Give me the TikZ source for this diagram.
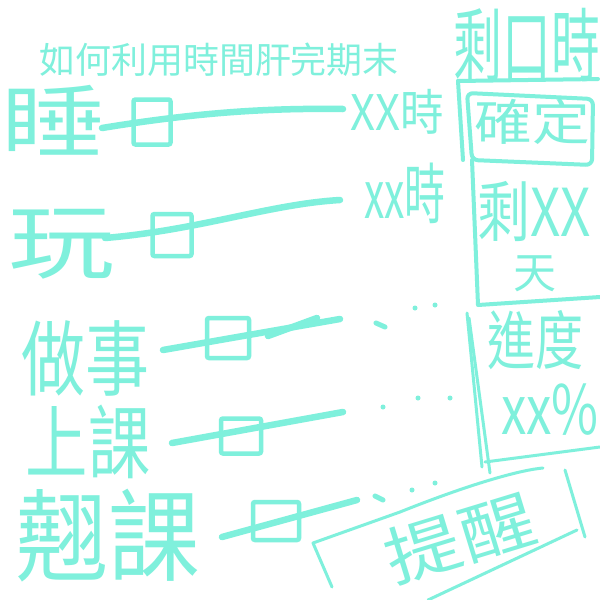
\documentclass[tikz,border=0pt]{standalone}
\usepackage{fontspec}
\usepackage{graphicx}
\newfontfamily\cjk{Noto Sans CJK TC}
\definecolor{aqua}{RGB}{127,240,220}
\newcommand\hw[4]{\scalebox{#2}[#3]{\fontsize{#1}{#1}\selectfont #4}}
\begin{document}
\begin{tikzpicture}[x=1pt,y=-1pt,
  hand/.style={draw=aqua,line width=4pt,line cap=round,line join=round},
  thinhand/.style={draw=aqua,line width=3pt,line cap=round,line join=round},
  slider/.style={draw=aqua,line width=6.5pt,line cap=round},
  knob/.style={draw=aqua,line width=4.5pt,inner sep=0pt,rounded corners=2pt},
  lbl/.style={text=aqua,inner sep=0pt,font=\cjk},
  dotmark/.style={circle,fill=aqua,inner sep=0pt,minimum size=5pt}]
\useasboundingbox (0,0) rectangle (600,600);
\fill[white] (0,0) rectangle (600,600);

% title
\node[lbl] (title) at (219,60) {\fontsize{36}{36}\selectfont 如何利用時間肝完期末};

% row labels
\node[lbl] (sleep) at (54,120) {\hw{80}{1.3}{1}{睡}};
\node[lbl] (play) at (62,244) {\hw{82}{1.3}{1}{玩}};
\node[lbl] (work) at (85,358) {\hw{82}{0.78}{1}{做事}};
\node[lbl] (class) at (88,442) {\hw{80}{0.78}{1}{上課}};
\node[lbl] (skip) at (108,536) {\hw{100}{0.92}{1}{翹課}};

% slider end points
\coordinate (s1a) at (102,128); \coordinate (s1b) at (343,109);
\coordinate (s2a) at (105,238); \coordinate (s2b) at (340,200);
\coordinate (s3a) at (163,350); \coordinate (s3b) at (340,319);
\coordinate (s4a) at (172,443); \coordinate (s4b) at (343,412);
\coordinate (s5a) at (222,537); \coordinate (s5b) at (357,500);

\draw[slider] (s1a) .. controls (200,112) and (270,108) .. (s1b);
\draw[slider] (s2a) .. controls (200,230) and (270,204) .. (s2b);
\draw[slider] (s3a) -- (s3b);
\draw[slider] (268,336) -- (317,318);
\draw[slider] (s4a) -- (s4b);
\draw[slider] (s5a) -- (s5b);

% knobs
\node[knob,minimum width=37pt,minimum height=45pt] (k1) at (152,122) {};
\node[knob,minimum width=39pt,minimum height=42pt] (k2) at (172,235) {};
\node[knob,minimum width=42pt,minimum height=40pt] (k3) at (228,338) {};
\node[knob,minimum width=40pt,minimum height=35pt] (k4) at (241,436) {};
\node[knob,minimum width=46pt,minimum height=38pt] (k5) at (276,521) {};

% time labels
\node[lbl] (t1) at (397,112) {\hw{49}{0.89}{1}{XX時}};
\node[lbl] (t2) at (405,193) {\hw{66}{0.62}{1}{xx時}};

% dots
\draw[hand,line width=5pt] (376,323) -- (385,327);
\node[dotmark] (d3b) at (415,308) {};
\node[dotmark] (d3c) at (435,305) {};
\node[dotmark] (d4a) at (383,407) {};
\node[dotmark] (d4b) at (418,398) {};
\node[dotmark] (d4c) at (450,398) {};
\draw[hand,line width=5pt] (375,496) -- (383,500);
\node[dotmark] (d5b) at (412,490) {};
\node[dotmark] (d5c) at (435,483) {};

% remaining-time panel
\node[lbl] (remain) at (527,45) {\hw{80}{0.61}{1}{剩口時}};
\draw[hand] (458,81) -- (598,79);
\draw[hand] (458,81) -- (463,160);
\draw[hand,rounded corners=6pt] (467,93) -- (593,99) -- (592,165) -- (472,160) -- cycle;
\node[lbl] (confirm) at (532,122) {\hw{49}{1.18}{1}{確定}};
\draw[hand] (472,160) -- (478,305) -- (600,297);
\node[lbl] (days) at (534,211) {\hw{66}{0.8}{1}{剩XX}};
\node[lbl] (tian) at (535,274) {\hw{43}{1}{1}{天}};

% progress panel
\draw[thinhand] (467,313) -- (482,467);
\draw[thinhand] (469,318) -- (490,473);
\draw[thinhand] (485,462) -- (600,447);
\node[lbl] (prog) at (535,340) {\hw{64}{0.75}{1}{進度}};
\node[lbl] (pct) at (550,410) {\hw{68}{0.75}{1}{xx\%}};

% reminder button
\draw[thinhand] (332,587) -- (313,543) -- (400,512) .. controls (470,484) and (520,470) .. (543,468);
\draw[thinhand] (565,470) -- (585,537);
\draw[thinhand] (428,600) -- (577,530);
\node[lbl,rotate=17] (remind) at (460,538) {\hw{64}{1.2}{1}{提醒}};
\end{tikzpicture}
\end{document}
